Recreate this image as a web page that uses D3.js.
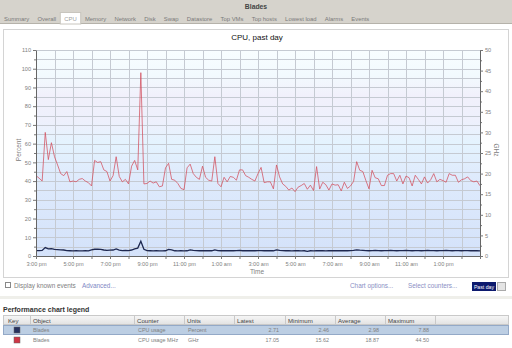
<!DOCTYPE html>
<html>
<head>
<meta charset="utf-8">
<script src="https://cdn.jsdelivr.net/npm/d3@7"></script>
<style>
  body { margin: 0; background: #fff; }
  svg { display: block; font-family: "Liberation Sans", Arial, sans-serif; }
</style>
</head>
<body>
<svg id="chart" width="512" height="348"></svg>
<script>
// tabs across the top
const tabs = ["Summary", "Overall", "CPU", "Memory", "Network", "Disk", "Swap", "Datastore", "Top VMs", "Top hosts", "Lowest load", "Alarms", "Events"];
const activeTab = "CPU";

// samples every 10 minutes, from 3:00 pm to 3:00 pm next day
const startTime = new Date(2011, 0, 1, 15, 0);
const stepMinutes = 10;

// CPU usage MHz (GHz, right axis)
const cpuGHz = [
  19.5, 18.9, 18.2, 30.0, 23.4, 27.5, 24.1, 22.1, 20.0, 19.5,
  20.5, 18.0, 18.2, 18.0, 18.6, 18.8, 18.2, 17.8, 17.0, 23.2,
  22.7, 22.9, 20.9, 20.5, 18.2, 19.5, 24.1, 19.3, 18.0, 18.6,
  17.5, 21.8, 23.2, 20.9, 44.5, 17.5, 17.6, 18.2, 17.7, 18.0,
  16.8, 17.0, 21.4, 22.5, 18.6, 18.4, 17.6, 16.4, 16.1, 21.4,
  22.3, 20.0, 19.1, 18.6, 21.8, 19.1, 18.4, 18.2, 24.1, 17.6,
  16.8, 19.1, 18.0, 19.3, 19.1, 18.4, 20.9, 20.9, 19.5, 19.1,
  18.6, 18.2, 20.0, 21.5, 17.8, 18.0, 18.0, 16.3, 22.1, 19.2,
  17.5, 16.9, 16.0, 16.5, 15.62, 16.7, 17.1, 17.6, 16.2, 17.2,
  15.9, 21.7, 16.25, 17.9, 17.3, 16.0, 17.5, 17.2, 17.3, 15.8,
  17.9, 16.4, 17.0, 18.1, 22.9, 20.8, 20.5, 18.3, 16.3, 20.8,
  19.0, 18.75, 17.1, 17.1, 19.6, 20.0, 20.0, 18.2, 19.6, 17.5,
  19.4, 19.0, 17.0, 19.6, 18.6, 17.5, 19.2, 17.7, 18.5, 20.0,
  18.0, 18.6, 18.3, 17.9, 20.0, 19.6, 19.6, 17.9, 18.5, 18.75,
  19.2, 18.3, 18.0, 18.2, 17.05
];

// CPU usage (percent, left axis)
const cpuPercent = [
  2.9, 2.9, 3.0, 4.5, 3.8, 3.9, 3.5, 3.4, 3.3, 3.2,
  2.9, 2.8, 2.7, 2.8, 2.7, 2.7, 2.8, 2.7, 3.3, 3.6,
  3.6, 3.5, 3.2, 3.0, 3.1, 3.2, 3.8, 3.1, 2.9, 3.0,
  2.9, 3.2, 3.8, 4.2, 7.88, 3.6, 2.9, 2.8, 2.7, 2.8,
  2.7, 2.7, 2.8, 3.5, 3.3, 2.8, 2.7, 2.8, 2.7, 2.8,
  3.3, 3.0, 2.9, 2.8, 2.9, 2.8, 2.9, 2.8, 3.3, 2.9,
  2.8, 2.9, 2.8, 2.9, 2.8, 2.9, 3.0, 2.8, 2.9, 2.8,
  2.9, 2.8, 2.9, 2.9, 2.8, 2.9, 2.8, 2.8, 3.3, 3.0,
  2.9, 2.8, 2.8, 2.7, 2.8, 2.8, 2.7, 2.8, 2.46, 2.8,
  2.7, 2.9, 2.8, 2.8, 2.7, 2.8, 2.8, 2.9, 2.8, 2.8,
  2.9, 2.8, 2.9, 3.0, 3.3, 3.1, 3.0, 2.9, 2.8, 2.9,
  3.0, 2.9, 2.8, 2.9, 2.9, 3.0, 2.9, 2.8, 2.9, 2.9,
  3.0, 2.9, 2.8, 2.9, 2.9, 2.8, 2.9, 3.0, 2.9, 2.9,
  2.8, 2.9, 2.9, 3.0, 2.9, 2.8, 2.9, 2.9, 2.8, 2.9,
  2.9, 2.8, 2.8, 2.9, 2.71
];

const yLeftTicks = d3.range(0, 111, 10);
const yRightTicks = d3.range(0, 51, 5);

// legend table
const legendColumns = ["Key", "Object", "Counter", "Units", "Latest", "Minimum", "Average", "Maximum", ""];
const legendObjects = ["Blades", "Blades"];
const legendCounters = ["CPU usage", "CPU usage MHz"];
const legendUnits = ["Percent", "GHz"];
const legendLatest = ["2.71", "17.05"];
const legendMinimum = ["2.46", "15.62"];
const legendAverage = ["2.98", "18.87"];
const legendMaximum = ["7.88", "44.50"];
const legendColors = ["#27325e", "#cf3645"];

const svg = d3.select("#chart");
const W = 512;

// ---- header bar with tabs
svg.append("rect").attr("x", 0).attr("y", 0).attr("width", W).attr("height", 24).attr("fill", "#d6d3cc");
svg.append("text").attr("x", W / 2).attr("y", 8.5).attr("text-anchor", "middle")
  .attr("font-size", 6.8).attr("font-weight", "bold").attr("fill", "#444").text("Blades");
svg.append("line").attr("x1", 0).attr("x2", W).attr("y1", 23.5).attr("y2", 23.5).attr("stroke", "#b5b2aa");

let tx = 4;
tabs.forEach(t => {
  const g = svg.append("g");
  const label = g.append("text").attr("x", tx).attr("y", 20.5).attr("font-size", 5.9)
    .attr("fill", t === activeTab ? "#a0a0a0" : "#7a7a7a").text(t);
  const w = label.node().getComputedTextLength();
  if (t === activeTab) {
    g.insert("rect", "text").attr("x", tx - 4).attr("y", 12.5).attr("width", w + 8).attr("height", 11.5)
      .attr("fill", "#fff").attr("stroke", "#c8c5be");
  }
  tx += w + 8.2;
});

// ---- chart panel
svg.append("rect").attr("x", 3.5).attr("y", 29.5).attr("width", 505).attr("height", 248)
  .attr("fill", "#fff").attr("stroke", "#d4d4d4");

svg.append("text").attr("x", 257).attr("y", 39.5).attr("text-anchor", "middle")
  .attr("font-size", 8).attr("fill", "#111").text("CPU, past day");

const endTime = d3.timeHour.offset(startTime, 24);
const x = d3.scaleTime().domain([startTime, endTime]).range([36, 480]);
const yL = d3.scaleLinear().domain([0, 110]).range([256, 50]);
const yR = d3.scaleLinear().domain([0, 50]).range([256, 50]);

const defs = svg.append("defs");
const grad = defs.append("linearGradient").attr("id", "bg").attr("x1", 0).attr("x2", 0).attr("y1", 0).attr("y2", 1);
[[0, "#f8fdff"], [0.12, "#f2fafe"], [0.22, "#f1f0fb"], [0.34, "#eef0fc"], [0.45, "#e4f3fe"], [0.6, "#dfebfc"], [1, "#d4e2fa"]]
  .forEach(([o, c]) => grad.append("stop").attr("offset", o).attr("stop-color", c));

svg.append("rect").attr("x", x.range()[0]).attr("y", yL(110)).attr("width", x.range()[1] - x.range()[0])
  .attr("height", yL(0) - yL(110)).attr("fill", "url(#bg)");

// grid
const grid = svg.append("g").attr("stroke", "#c5cad2").attr("stroke-width", 1).attr("shape-rendering", "crispEdges");
grid.selectAll(".h").data(d3.range(5, 111, 5)).enter().append("line")
  .attr("x1", x.range()[0]).attr("x2", x.range()[1])
  .attr("y1", d => Math.round(yL(d)) + 0.5).attr("y2", d => Math.round(yL(d)) + 0.5);
grid.selectAll(".v").data(d3.timeHour.range(d3.timeHour.offset(startTime, 1), endTime)).enter().append("line")
  .attr("y1", yL(110)).attr("y2", yL(0))
  .attr("x1", d => Math.round(x(d)) + 0.5).attr("x2", d => Math.round(x(d)) + 0.5);

// series
const times = cpuGHz.map((_, i) => d3.timeMinute.offset(startTime, i * stepMinutes));
const lineR = d3.line().x((d, i) => x(times[i])).y(d => yR(d));
const lineL = d3.line().x((d, i) => x(times[i])).y(d => yL(d));

svg.append("path").datum(cpuGHz).attr("d", lineR).attr("fill", "none")
  .attr("stroke", "#d2505f").attr("stroke-width", 0.9).attr("stroke-opacity", 0.85);
svg.append("path").datum(cpuPercent).attr("d", lineL).attr("fill", "none")
  .attr("stroke", "#1e2850").attr("stroke-width", 1.3);

// axes
const axisFont = g => g.selectAll("text").attr("font-size", 5.6).attr("fill", "#808080").attr("font-family", "Liberation Sans, Arial, sans-serif");
const axisColor = g => { g.select(".domain").attr("stroke", "#666"); g.selectAll(".tick line").attr("stroke", "#777"); };

svg.append("g").attr("transform", "translate(36,0)")
  .call(d3.axisLeft(yL).tickValues(d3.range(5, 111, 10)).tickSize(2).tickFormat(""))
  .call(g => g.select(".domain").remove()).call(axisColor);
svg.append("g").attr("transform", "translate(36,0)")
  .call(d3.axisLeft(yL).tickValues(yLeftTicks).tickSize(3).tickPadding(2).tickSizeOuter(0))
  .call(axisFont).call(axisColor);

svg.append("g").attr("transform", "translate(480,0)")
  .call(d3.axisRight(yR).tickValues(d3.range(2.5, 50, 5)).tickSize(2).tickFormat(""))
  .call(g => g.select(".domain").remove()).call(axisColor);
svg.append("g").attr("transform", "translate(480,0)")
  .call(d3.axisRight(yR).tickValues(yRightTicks).tickSize(3).tickPadding(2).tickSizeOuter(0))
  .call(axisFont).call(axisColor);

const fmt = d3.timeFormat("%-I:%M %p");
svg.append("g").attr("transform", "translate(0,256)")
  .call(d3.axisBottom(x).ticks(d3.timeHour.every(1)).tickSize(3).tickSizeOuter(0)
    .tickFormat(d => (d.getHours() % 2 === 1 && d < d3.timeHour.offset(endTime, -1)) ? fmt(d).toLowerCase() : ""))
  .call(axisFont).call(axisColor);

svg.append("text").attr("transform", "translate(21,150) rotate(-90)").attr("text-anchor", "middle")
  .attr("font-size", 6.5).attr("fill", "#808080").text("Percent");
svg.append("text").attr("transform", "translate(494,150) rotate(90)").attr("text-anchor", "middle")
  .attr("font-size", 6.5).attr("fill", "#808080").text("GHz");
svg.append("text").attr("x", 257).attr("y", 273.5).attr("text-anchor", "middle")
  .attr("font-size", 6.5).attr("fill", "#808080").text("Time");

// ---- controls under the chart
svg.append("rect").attr("x", 5.5).attr("y", 282.5).attr("width", 5).attr("height", 5).attr("fill", "#fff").attr("stroke", "#888");
svg.append("text").attr("x", 14).attr("y", 288).attr("font-size", 6.4).attr("fill", "#808080").text("Display known events");
svg.append("text").attr("x", 82).attr("y", 288).attr("font-size", 6.4).attr("fill", "#8088c4").text("Advanced...");
svg.append("text").attr("x", 350).attr("y", 288).attr("font-size", 6.4).attr("fill", "#8a90c4").text("Chart options...");
svg.append("text").attr("x", 408).attr("y", 288).attr("font-size", 6.4).attr("fill", "#8a90c4").text("Select counters...");
svg.append("rect").attr("x", 472).attr("y", 282).attr("width", 24).attr("height", 9).attr("fill", "#0d1a6e");
svg.append("text").attr("x", 484).attr("y", 288.8).attr("text-anchor", "middle").attr("font-size", 5.2)
  .attr("fill", "#fff").text("Past day");
svg.append("rect").attr("x", 497.5).attr("y", 282.5).attr("width", 8).attr("height", 8).attr("fill", "#e4e4e4").attr("stroke", "#aaa");

svg.append("rect").attr("x", 0).attr("y", 296).attr("width", W).attr("height", 3).attr("fill", "#efefea");

// ---- legend table
svg.append("text").attr("x", 3).attr("y", 312).attr("font-size", 7).attr("font-weight", "bold")
  .attr("fill", "#333").text("Performance chart legend");

const colX = [3, 30, 134, 184, 234, 285, 335, 385, 435, 509];
const hdr = defs.append("linearGradient").attr("id", "hdr").attr("x1", 0).attr("x2", 0).attr("y1", 0).attr("y2", 1);
hdr.append("stop").attr("offset", 0).attr("stop-color", "#f7f7f7");
hdr.append("stop").attr("offset", 1).attr("stop-color", "#e2e2e2");

svg.append("rect").attr("x", 3.5).attr("y", 315.5).attr("width", 505).attr("height", 9).attr("fill", "url(#hdr)").attr("stroke", "#c9c9c9");
svg.selectAll(".colsep").data(colX.slice(1, -1)).enter().append("line")
  .attr("x1", d => d + 0.5).attr("x2", d => d + 0.5).attr("y1", 315.5).attr("y2", 324.5).attr("stroke", "#c9c9c9");
svg.selectAll(".colhdr").data(legendColumns).enter().append("text")
  .attr("x", (d, i) => i === 0 ? colX[0] + 5 : colX[i] + 3).attr("y", 322.5)
  .attr("font-size", 6.1).attr("fill", "#444").text(d => d);

const rows = legendObjects.map((o, i) => ({
  o, counter: legendCounters[i], unit: legendUnits[i], color: legendColors[i],
  vals: [legendLatest[i], legendMinimum[i], legendAverage[i], legendMaximum[i]]
}));
const rowG = svg.selectAll(".row").data(rows).enter().append("g")
  .attr("transform", (d, i) => `translate(0,${325 + i * 10})`);
rowG.filter((d, i) => i === 0).append("rect").attr("x", 3.5).attr("y", 0.5).attr("width", 505).attr("height", 9)
  .attr("fill", "#bccee3").attr("stroke", "#93a9c7");
rowG.append("rect").attr("x", 14).attr("y", 2).attr("width", 6).attr("height", 6)
  .attr("fill", d => d.color).attr("stroke", "#666").attr("stroke-width", 0.5);
rowG.append("text").attr("x", colX[1] + 3).attr("y", 7).attr("font-size", 5.4).attr("fill", "#808080").text(d => d.o);
rowG.append("text").attr("x", colX[2] + 4).attr("y", 7).attr("font-size", 5.4).attr("fill", "#808080").text(d => d.counter);
rowG.append("text").attr("x", colX[3] + 4).attr("y", 7).attr("font-size", 5.4).attr("fill", "#808080").text(d => d.unit);
rowG.selectAll(".v").data(d => d.vals).enter().append("text")
  .attr("x", (d, i) => colX[i + 5] - 6).attr("y", 7).attr("text-anchor", "end")
  .attr("font-size", 5.4).attr("fill", "#808080").text(d => d);
</script>
</body>
</html>
